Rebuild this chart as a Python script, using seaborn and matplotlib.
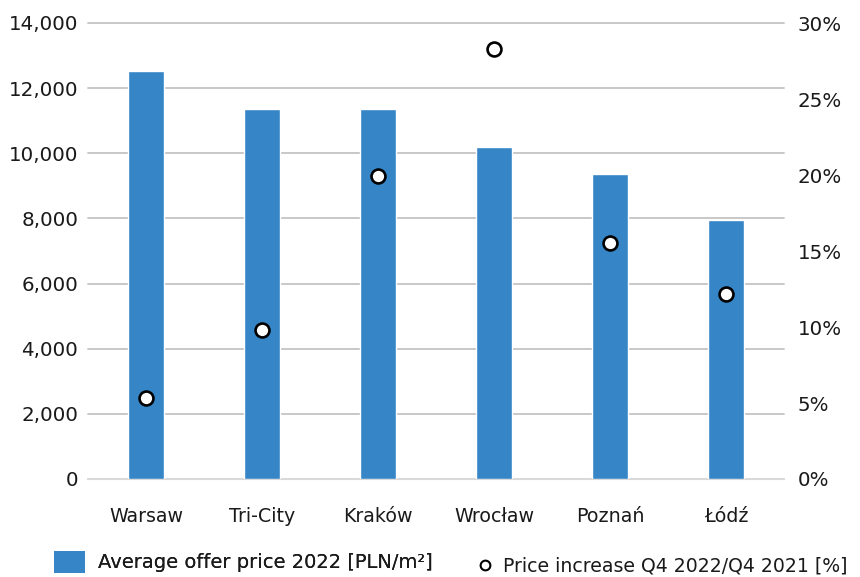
import matplotlib
matplotlib.use("Agg")
import matplotlib.pyplot as plt
import seaborn as sns
import pandas as pd
from matplotlib.patches import Patch
from matplotlib.lines import Line2D
from matplotlib.ticker import FuncFormatter, FixedLocator

cities = ["Warsaw", "Tri-City", "Kraków", "Wrocław", "Poznań", "Łódź"]
avg_price = [12530, 11360, 11360, 10200, 9365, 7955]
price_increase = [5.35, 9.8, 19.95, 28.3, 15.5, 12.2]
left_ticks = [0, 2000, 4000, 6000, 8000, 10000, 12000, 14000]
right_ticks = [0, 5, 10, 15, 20, 25, 30]
bar_label = "Average offer price 2022 [PLN/m²]"
pt_label = "Price increase Q4 2022/Q4 2021 [%]"

sns.set_theme(style="white")
plt.rcParams['font.family'] = ['DejaVu Sans']

BAR = "#3686C7"
TXT = "#1a1a1a"

df = pd.DataFrame({"city": cities, "price": avg_price, "inc": price_increase})

fig = plt.figure(figsize=(8.6, 5.77), dpi=100)
W, H = 860, 577
ax = fig.add_axes([88 / W, 1 - 479 / H, (784 - 88) / W, (479 - 23) / H])

sns.barplot(data=df, x="city", y="price", color=BAR, width=0.31, ax=ax,
            saturation=1, zorder=2)
ax.set_ylim(0, 14000)
ax.yaxis.set_major_locator(FixedLocator(left_ticks))
ax.yaxis.set_major_formatter(FuncFormatter(lambda v, p: f"{int(v):,}"))
ax.grid(axis="y", color="#c4c4c4", linewidth=1.3, zorder=0)
ax.grid(axis="x", visible=False)
ax.set_axisbelow(True)
for gl in ax.get_ygridlines():
    gl.set_clip_on(False)
for s in ax.spines.values():
    s.set_visible(False)
ax.axhline(0, color="#d9d9d9", linewidth=1.5, zorder=1, clip_on=False)
ax.set_xlabel("")
ax.set_ylabel("")
ax.tick_params(axis="y", length=0, pad=7, labelsize=14.3, labelcolor=TXT)
ax.tick_params(axis="x", length=0, pad=20, labelsize=13.7, labelcolor=TXT)
ax.set_xlim(-0.5, len(cities) - 0.5)

ax2 = ax.twinx()
sns.scatterplot(data=df, x="city", y="inc", ax=ax2, s=100, color="white",
                edgecolor="black", linewidth=1.9, zorder=5)
ax2.set_ylim(0, 30)
ax2.yaxis.set_major_locator(FixedLocator(right_ticks))
ax2.yaxis.set_major_formatter(FuncFormatter(lambda v, p: f"{int(v)}%"))
ax2.grid(False)
for s in ax2.spines.values():
    s.set_visible(False)
ax2.set_ylabel("")
ax2.tick_params(axis="y", length=0, pad=10, labelsize=14.3, labelcolor=TXT)
ax2.set_xlim(-0.5, len(cities) - 0.5)

h1 = Patch(facecolor=BAR, edgecolor="none")
leg1 = fig.legend([h1], [bar_label], loc="center left",
                  bbox_to_anchor=(54 / W, 1 - 562 / H), frameon=False,
                  fontsize=14.0, handlelength=1.6, handleheight=1.35,
                  handletextpad=0.65, borderpad=0, borderaxespad=0,
                  labelcolor=TXT)
h2 = Line2D([], [], marker="o", linestyle="none", markerfacecolor="white",
            markeredgecolor="black", markersize=7, markeredgewidth=1.5)
leg2 = fig.legend([h2], [pt_label], loc="center left",
                  bbox_to_anchor=(478 / W, 1 - 566 / H), frameon=False,
                  fontsize=13.6, handlelength=0.75, handletextpad=0.55,
                  borderpad=0, borderaxespad=0, labelcolor=TXT)
fig.add_artist(leg1)

fig.savefig("out.png", dpi=100)
